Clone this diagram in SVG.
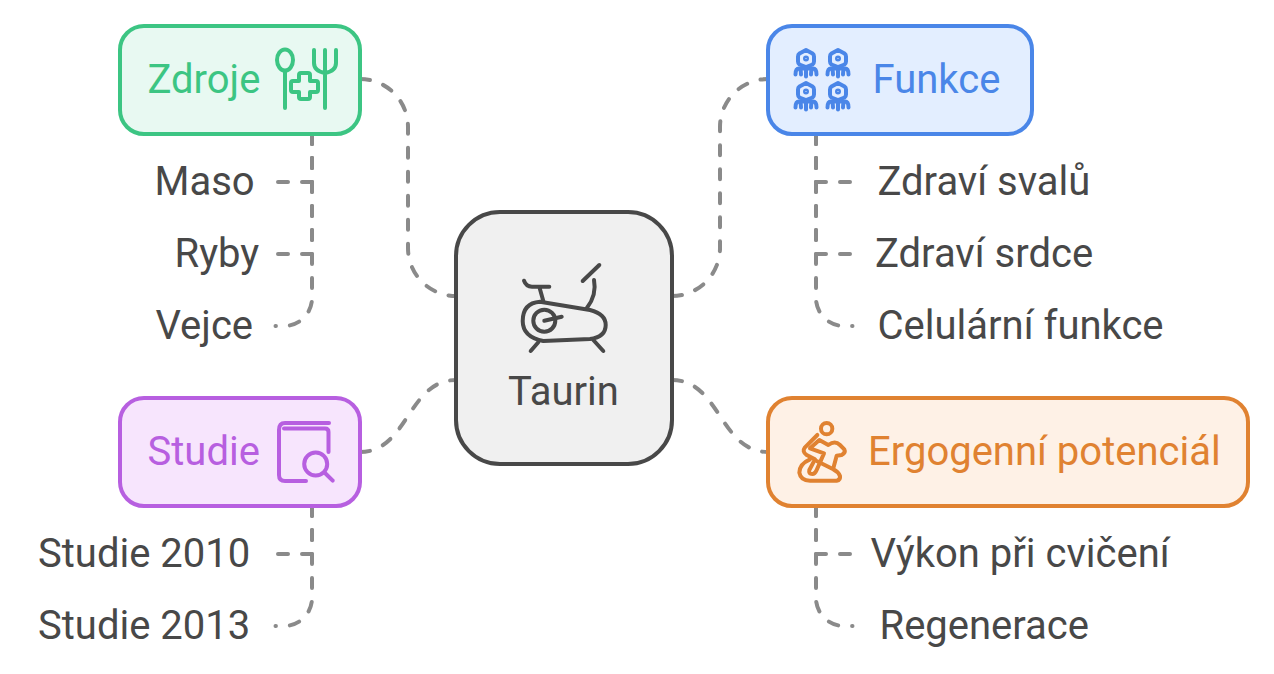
<svg xmlns="http://www.w3.org/2000/svg" width="1274" height="674" viewBox="0 0 1274 674">
<style>
text{font-family:Roboto,"Liberation Sans",sans-serif;font-size:40px;fill:#484848}
.box{stroke-width:4}
.ic{fill:none;stroke-width:4;stroke-linecap:round;stroke-linejoin:round}
.c{fill:none;stroke:#8a8a8a;stroke-width:4;stroke-linecap:round;stroke-dasharray:10 14}
</style>
<defs>
<g id="bot" fill="none" stroke="#4a86e8" stroke-width="4" stroke-linecap="round" stroke-linejoin="round">
<path d="M0-8.500 6.500-5Q8-4 8-2V3Q8 5 6.500 6L0 8.500-6.500 6Q-8 5-8 3V-2Q-8-4-6.500-5Z"/>
<circle cx="0" cy="0" r="1.800" stroke-width="2.400"/>
<path d="M0 9V18M-10.500 16Q-10.500 10-7 10Q-5 10-5 16M10.500 16Q10.500 10 7 10Q5 10 5 16M-7 10H7"/>
</g>
</defs>
<rect width="1274" height="674" fill="#fff"/>
<g id="connectors">
<path class="c" d="M360 79A48 48 0 0 1 408 127V248A48 48 0 0 0 456 296"/>
<path class="c" d="M672 296A48 48 0 0 0 720 248V127A48 48 0 0 1 768 79"/>
<path class="c" d="M360 452C408 452 408 380 456 380"/>
<path class="c" d="M672 380C720 380 720 452 768 452"/>
<path class="c" d="M312 134V182H276"/>
<path class="c" d="M312 134V254H276"/>
<path class="c" d="M312 134V298A28 28 0 0 1 284 326H275.500"/>
<path class="c" d="M816 134V182H852"/>
<path class="c" d="M816 134V254H852"/>
<path class="c" d="M816 134V298A28 28 0 0 0 844 326H852.500"/>
<path class="c" d="M312 506V554H276"/>
<path class="c" d="M312 506V598A28 28 0 0 1 284 626H275.500"/>
<path class="c" d="M816 506V554H852"/>
<path class="c" d="M816 506V598A28 28 0 0 0 844 626H852.500"/>
</g>
<g id="n-taurin">
<rect class="box" x="456" y="212" width="216" height="252" rx="44" fill="#f0f0f0" stroke="#484848"/>
<g class="ic" stroke="#484848">
<path d="M540 301.700 590 310Q605.700 314 605.700 325Q605.700 337 590 339L543.300 341Q522.700 337 522.700 321Q522.700 303 540 301.700Z"/>
<circle cx="544.300" cy="320.700" r="11"/>
<path d="M544.300 320.700 561.700 316.700M524 280.700Q526 286.700 532 286.700H549.300M539.300 286.700 543.300 301M586.700 308.300Q597 295 594 280M582.700 281 599.300 265M538.300 342.300 530.700 351M593.300 340 603.300 351"/>
</g>
<text x="563.500" y="405" text-anchor="middle">Taurin</text>
</g>
<g id="n-zdroje">
<rect class="box" x="120" y="26" width="240" height="108" rx="24" fill="#e8f9f2" stroke="#3cc583"/>
<text x="147.500" y="93" style="fill:#3cc583">Zdroje</text>
<g class="ic" stroke="#3cc583">
<ellipse cx="285" cy="60" rx="8" ry="10.500"/>
<path d="M285 71V108M314 50V63Q314 71 325 73Q336 71 336 63V50M325 50V108M301 73H308Q310 73 310 75V81H316Q318 81 318 83V90Q318 92 316 92H310V97Q310 99 308 99H301Q299 99 299 97V92H293Q291 92 291 90V83Q291 81 293 81H299V75Q299 73 301 73Z"/>
</g>
</g>
<g id="n-funkce">
<rect class="box" x="768" y="26" width="264" height="108" rx="24" fill="#e3eeff" stroke="#4a86e8"/>
<use href="#bot" x="806" y="58.500"/><use href="#bot" x="838" y="58.500"/>
<use href="#bot" x="806" y="91.500"/><use href="#bot" x="838" y="91.500"/>
<text x="872.500" y="93" style="fill:#4a86e8">Funkce</text>
</g>
<g id="n-studie">
<rect class="box" x="120" y="398" width="240" height="108" rx="24" fill="#f7e5fd" stroke="#b75fe0"/>
<text x="147.500" y="465" style="fill:#b75fe0">Studie</text>
<g class="ic" stroke="#b75fe0">
<path d="M329 423H285Q279 423 279 430V475Q279 481 285 481H306M284 428.500H325Q328.500 428.500 328.500 432V452"/>
<circle cx="315.700" cy="464" r="11.500"/>
<path d="M325 473 332.700 480.700"/>
</g>
</g>
<g id="n-ergo">
<rect class="box" x="768" y="398" width="480" height="108" rx="24" fill="#fef1e6" stroke="#e08231"/>
<g class="ic" stroke="#e08231" transform="translate(760 390) scale(.3333)" style="stroke-width:12">
<circle cx="200" cy="116" r="17"/>
<path d="M172 135 135 172Q125 185 140 195L165 208 148 240Q145 252 157 252Q165 252 170 240L192 190 150 175 178 150 205 165Q225 150 240 165L253 178Q258 188 245 195L230 197 220 235"/>
<path d="M150 208Q118 222 118 248Q122 272 150 272H230Q242 270 240 258Q235 245 220 238L170 213"/>
</g>
<text x="868" y="465" style="fill:#e08231">Ergogenní potenciál</text>
</g>
<g id="labels">
<text x="154.500" y="195">Maso</text>
<text x="174.500" y="267">Ryby</text>
<text x="155.500" y="339">Vejce</text>
<text x="877.500" y="195">Zdraví svalů</text>
<text x="875" y="267">Zdraví srdce</text>
<text x="877.500" y="339">Celulární funkce</text>
<text x="38" y="567">Studie 2010</text>
<text x="38" y="639">Studie 2013</text>
<text x="870.500" y="567">Výkon při cvičení</text>
<text x="879.500" y="639">Regenerace</text>
</g>
</svg>
